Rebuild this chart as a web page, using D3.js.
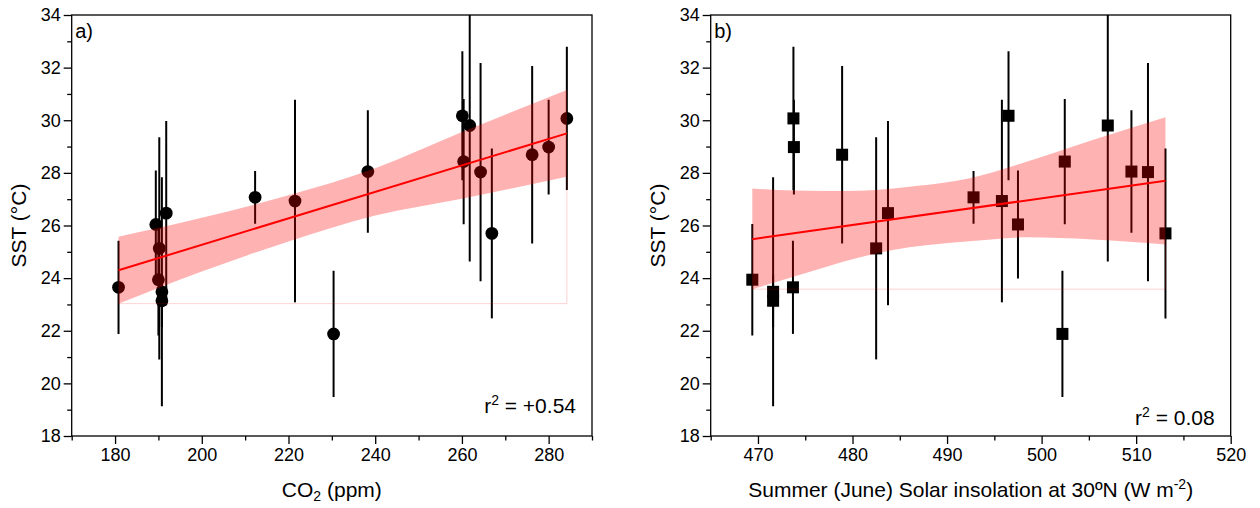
<!DOCTYPE html>
<html>
<head>
<meta charset="utf-8">
<script src="https://cdn.jsdelivr.net/npm/d3@7"></script>
<style>
  body { margin: 0; background: #fff; }
  text { font-family: "Liberation Sans", Arial, sans-serif; fill: #000; }
</style>
</head>
<body>
<svg id="chart" width="1260" height="508"></svg>
<script>
// samples (same order in both panels)
var co2        = [180.8, 189.4, 190.0, 190.2, 190.8, 190.8, 191.8, 212.3, 221.5, 230.4, 238.3, 260.1, 260.4, 261.8, 264.3, 266.9, 276.2, 280.0, 284.2];
var insolation = [473.7, 497.5, 469.4, 482.5, 471.6, 471.6, 483.75, 492.8, 495.8, 502.2, 509.5, 496.5, 502.45, 507.0, 511.25, 513.1, 478.9, 473.8, 473.75];
var sst        = [23.65, 26.04, 23.94, 25.13, 23.48, 23.14, 26.47, 27.07, 26.93, 21.88, 28.05, 30.17, 28.43, 29.8, 28.03, 25.7, 28.69, 28.98, 30.07];
var sstErr     = [1.77, 2.05, 2.12, 4.22, 4.35, 1.0, 3.5, 1.0, 3.85, 2.4, 2.33, 2.45, 2.38, 5.17, 4.15, 3.23, 3.37, 1.8, 2.72];

// fit line and 95% band
var fitCo2X = [180.8, 284.2];
var fitCo2Y = [24.30, 29.5];
var bandCo2X     = [180.8, 200, 220, 240, 260, 284.2];
var bandCo2Upper = [25.57, 26.29, 27.15, 28.18, 29.55, 31.15];
var bandCo2Lower = [23.03, 24.25, 25.39, 26.38, 27.02, 27.85];

var fitInsX = [469.4, 513.1];
var fitInsY = [25.48, 27.7];
var bandInsX     = [469.4, 472.0, 475.5, 479.0, 482.5, 486.0, 489.6, 492.4, 498.4, 505.4, 513.1];
var bandInsUpper = [27.41, 27.35, 27.32, 27.31, 27.35, 27.47, 27.62, 27.8, 28.42, 29.25, 30.11];
var bandInsLower = [23.58, 23.86, 24.24, 24.62, 24.94, 25.17, 25.32, 25.4, 25.55, 25.47, 25.28];

var yMajor = [18, 20, 22, 24, 26, 28, 30, 32, 34];
var yMinor = [19, 21, 23, 25, 27, 29, 31, 33];
var co2Major = [180, 200, 220, 240, 260, 280];
var co2Minor = [170, 190, 210, 230, 250, 270, 290];
var insMajor = [470, 480, 490, 500, 510, 520];
var insMinor = [465, 475, 485, 495, 505, 515];

var svg = d3.select("#chart");
svg.append("rect").attr("width", 1260).attr("height", 508).attr("fill", "#fff");

var plotTop = 15, plotBottom = 436;
var y = d3.scaleLinear().domain([18, 34]).range([plotBottom, plotTop]);

function drawPanel(p) {
    var x = d3.scaleLinear().domain(p.domain).range([p.left, p.right]);
    var g = svg.append("g");

    var clipId = "clip-" + p.id;
    g.append("clipPath").attr("id", clipId)
        .append("rect")
        .attr("x", p.left).attr("y", plotTop)
        .attr("width", p.right - p.left).attr("height", plotBottom - plotTop);

    var plot = g.append("g").attr("clip-path", "url(#" + clipId + ")");

    // error bars
    plot.selectAll(".err")
        .data(p.xs)
        .enter()
        .append("line")
        .attr("x1", function(d) { return x(d); })
        .attr("x2", function(d) { return x(d); })
        .attr("y1", function(d, i) { return y(sst[i] + sstErr[i]); })
        .attr("y2", function(d, i) { return y(sst[i] - sstErr[i]); })
        .attr("stroke", "#000")
        .attr("stroke-width", 2);

    // symbols
    if (p.shape === "circle") {
        plot.selectAll(".pt")
            .data(p.xs)
            .enter()
            .append("circle")
            .attr("cx", function(d) { return x(d); })
            .attr("cy", function(d, i) { return y(sst[i]); })
            .attr("r", 6.4)
            .attr("fill", "#000");
    } else {
        plot.selectAll(".pt")
            .data(p.xs)
            .enter()
            .append("rect")
            .attr("x", function(d) { return x(d) - 6; })
            .attr("y", function(d, i) { return y(sst[i]) - 6; })
            .attr("width", 12)
            .attr("height", 12)
            .attr("fill", "#000");
    }

    // confidence band (drawn over the points, like the original)
    var band = p.bandX.map(function(v, i) { return { x: v, lo: p.bandLo[i], hi: p.bandHi[i] }; });
    var area = d3.area()
        .x(function(d) { return x(d.x); })
        .y0(function(d) { return y(d.lo); })
        .y1(function(d) { return y(d.hi); })
        .curve(d3.curveMonotoneX);
    plot.append("path")
        .datum(band)
        .attr("d", area)
        .attr("fill", "#ff0000")
        .attr("fill-opacity", 0.3);

    // faint outline left by the fill
    var minLo = d3.min(p.bandLo);
    var last = band[band.length - 1];
    plot.append("path")
        .attr("d", "M" + x(band[0].x) + "," + y(minLo) +
                   "L" + x(last.x) + "," + y(minLo) +
                   "L" + x(last.x) + "," + y(last.lo))
        .attr("fill", "none")
        .attr("stroke", "#ff0000")
        .attr("stroke-opacity", 0.18)
        .attr("stroke-width", 1);

    // fit line
    plot.append("line")
        .attr("x1", x(p.fitX[0])).attr("y1", y(p.fitY[0]))
        .attr("x2", x(p.fitX[1])).attr("y2", y(p.fitY[1]))
        .attr("stroke", "#ff0000")
        .attr("stroke-width", 2);

    // axes
    function styleAxis(a) {
        a.select(".domain").remove();
        a.selectAll("line").attr("stroke", "#000").attr("stroke-width", 1.3);
        a.attr("font-size", 18).attr("font-family", "Liberation Sans, Arial, sans-serif");
    }
    g.append("g").attr("transform", "translate(0," + plotBottom + ")")
        .call(d3.axisBottom(x).tickValues(p.major).tickSize(8).tickPadding(4).tickFormat(d3.format("d")))
        .call(styleAxis);
    g.append("g").attr("transform", "translate(0," + plotBottom + ")")
        .call(d3.axisBottom(x).tickValues(p.minor).tickSize(4.5).tickFormat(""))
        .call(styleAxis);
    g.append("g").attr("transform", "translate(" + p.left + ",0)")
        .call(d3.axisLeft(y).tickValues(yMajor).tickSize(8).tickPadding(3).tickFormat(d3.format("d")))
        .call(styleAxis);
    g.append("g").attr("transform", "translate(" + p.left + ",0)")
        .call(d3.axisLeft(y).tickValues(yMinor).tickSize(4.5).tickFormat(""))
        .call(styleAxis);

    // frame
    g.append("rect")
        .attr("x", p.left).attr("y", plotTop)
        .attr("width", p.right - p.left).attr("height", plotBottom - plotTop)
        .attr("fill", "none")
        .attr("stroke", "#000")
        .attr("stroke-width", 1.3);

    // labels
    g.append("text")
        .attr("x", p.left + 3.5).attr("y", 38)
        .style("font-size", "20px")
        .text(p.tag);

    g.append("text")
        .attr("transform", "translate(" + (p.left - 46) + "," + ((plotTop + plotBottom) / 2) + ") rotate(-90)")
        .attr("text-anchor", "middle")
        .style("font-size", "21px")
        .text("SST (°C)");

    var r2 = g.append("text")
        .attr("x", p.right - 16).attr("y", p.r2y)
        .attr("text-anchor", "end")
        .style("font-size", "21px");
    r2.append("tspan").text("r");
    r2.append("tspan").attr("baseline-shift", "super").style("font-size", "14px").text("2");
    r2.append("tspan").text(" = " + p.r2);

    var xt = g.append("text")
        .attr("x", (p.left + p.right) / 2).attr("y", 497)
        .attr("text-anchor", "middle")
        .style("font-size", "21px");
    p.xTitle(xt);
}

drawPanel({
    id: "a", tag: "a)", left: 71.7, right: 592, domain: [170, 290],
    xs: co2, shape: "circle",
    major: co2Major, minor: co2Minor,
    bandX: bandCo2X, bandHi: bandCo2Upper, bandLo: bandCo2Lower,
    fitX: fitCo2X, fitY: fitCo2Y,
    r2: "+0.54", r2y: 413,
    xTitle: function(t) {
        t.append("tspan").text("CO");
        t.append("tspan").attr("dy", 4).style("font-size", "14px").text("2");
        t.append("tspan").attr("dy", -4).text(" (ppm)");
    }
});

drawPanel({
    id: "b", tag: "b)", left: 710.7, right: 1230.7, domain: [465, 520],
    xs: insolation, shape: "square",
    major: insMajor, minor: insMinor,
    bandX: bandInsX, bandHi: bandInsUpper, bandLo: bandInsLower,
    fitX: fitInsX, fitY: fitInsY,
    r2: "0.08", r2y: 425,
    xTitle: function(t) {
        t.append("tspan").text("Summer (June) Solar insolation at 30ºN (W m");
        t.append("tspan").attr("baseline-shift", "super").style("font-size", "14px").text("-2");
        t.append("tspan").text(")");
    }
});
</script>
</body>
</html>
